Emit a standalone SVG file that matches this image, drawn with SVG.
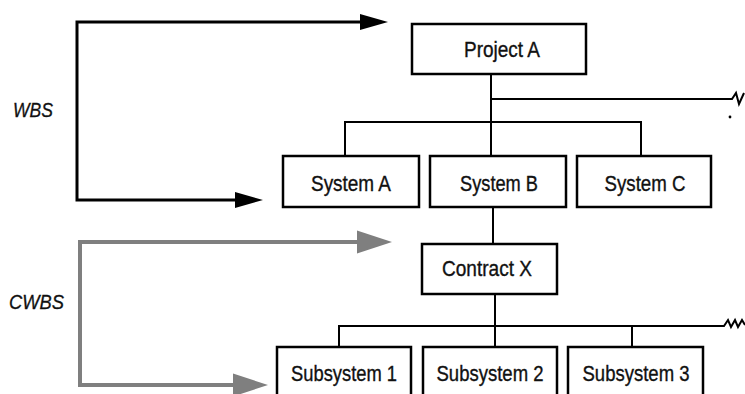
<svg xmlns="http://www.w3.org/2000/svg" width="745" height="394" viewBox="0 0 745 394">
<style>
.box{fill:#fff;stroke:#000;stroke-width:2.5}
.lbl{font-family:"Liberation Sans",Arial,sans-serif;font-size:22px;fill:#111;stroke:#111;stroke-width:0.35;text-anchor:middle}
.side{font-family:"Liberation Sans",Arial,sans-serif;font-size:21px;font-style:italic;fill:#111;stroke:#111;stroke-width:0.3}
.ln{fill:none;stroke:#000;stroke-width:2}
.wbs{fill:none;stroke:#000;stroke-width:3}
.cwbs{fill:none;stroke:#7f7f7f;stroke-width:4}
</style>
<defs>
<marker id="ab" markerUnits="userSpaceOnUse" markerWidth="28" markerHeight="16" refX="0" refY="8" orient="auto" overflow="visible">
<path d="M0,0 L28,8 L0,16 z" fill="#000"/>
</marker>
<marker id="ag" markerUnits="userSpaceOnUse" markerWidth="35" markerHeight="23" refX="0" refY="11.5" orient="auto" overflow="visible">
<path d="M0,0 L35,11.5 L0,23 z" fill="#7f7f7f"/>
</marker>
</defs>
<rect width="745" height="394" fill="#fff"/>
<g id="connectors">
<path class="wbs" d="M77,111 V22 H360" marker-end="url(#ab)"/>
<path class="wbs" d="M77,111 V200 H235" marker-end="url(#ab)"/>
<path class="cwbs" d="M80,313 V242 H357" marker-end="url(#ag)"/>
<path class="cwbs" d="M80,313 V385 H233" marker-end="url(#ag)"/>
<path class="ln" d="M491,74 V156"/>
<path class="ln" d="M491,99 H732 L736,93 L739,104 L744,93"/>
<circle cx="730" cy="117" r="1.4" fill="#000"/>
<path class="ln" d="M345,156 V122 H641 V156"/>
<path class="ln" d="M493,207 V244"/>
<path class="ln" d="M495,294 V347"/>
<path class="ln" d="M339,347 V326 H724 L728,320 L731,327 L735,320 L738,327 L742,320 L745,325"/>
<path class="ln" d="M632,326 V347"/>
</g>
<g id="label-wbs"><text class="side" x="13" y="117" textLength="40" lengthAdjust="spacingAndGlyphs">WBS</text></g>
<g id="label-cwbs"><text class="side" x="9" y="309" textLength="55" lengthAdjust="spacingAndGlyphs">CWBS</text></g>
<g id="project-a"><rect class="box" x="412" y="24" width="174" height="50"/><text class="lbl" x="502" y="56.5" textLength="76" lengthAdjust="spacingAndGlyphs">Project A</text></g>
<g id="system-a"><rect class="box" x="283" y="156" width="136" height="51"/><text class="lbl" x="351" y="191" textLength="80" lengthAdjust="spacingAndGlyphs">System A</text></g>
<g id="system-b"><rect class="box" x="430" y="156" width="136" height="51"/><text class="lbl" x="499" y="191" textLength="78" lengthAdjust="spacingAndGlyphs">System B</text></g>
<g id="system-c"><rect class="box" x="577" y="156" width="134" height="51"/><text class="lbl" x="645" y="191" textLength="81" lengthAdjust="spacingAndGlyphs">System C</text></g>
<g id="contract-x"><rect class="box" x="422" y="244" width="135" height="50"/><text class="lbl" x="487" y="275.5" textLength="90" lengthAdjust="spacingAndGlyphs">Contract X</text></g>
<g id="subsystem-1"><rect class="box" x="277" y="347" width="134" height="60"/><text class="lbl" x="344" y="381" textLength="106" lengthAdjust="spacingAndGlyphs">Subsystem 1</text></g>
<g id="subsystem-2"><rect class="box" x="423" y="347" width="134" height="60"/><text class="lbl" x="490" y="381" textLength="107" lengthAdjust="spacingAndGlyphs">Subsystem 2</text></g>
<g id="subsystem-3"><rect class="box" x="568" y="347" width="135" height="60"/><text class="lbl" x="636" y="381" textLength="107" lengthAdjust="spacingAndGlyphs">Subsystem 3</text></g>
</svg>
